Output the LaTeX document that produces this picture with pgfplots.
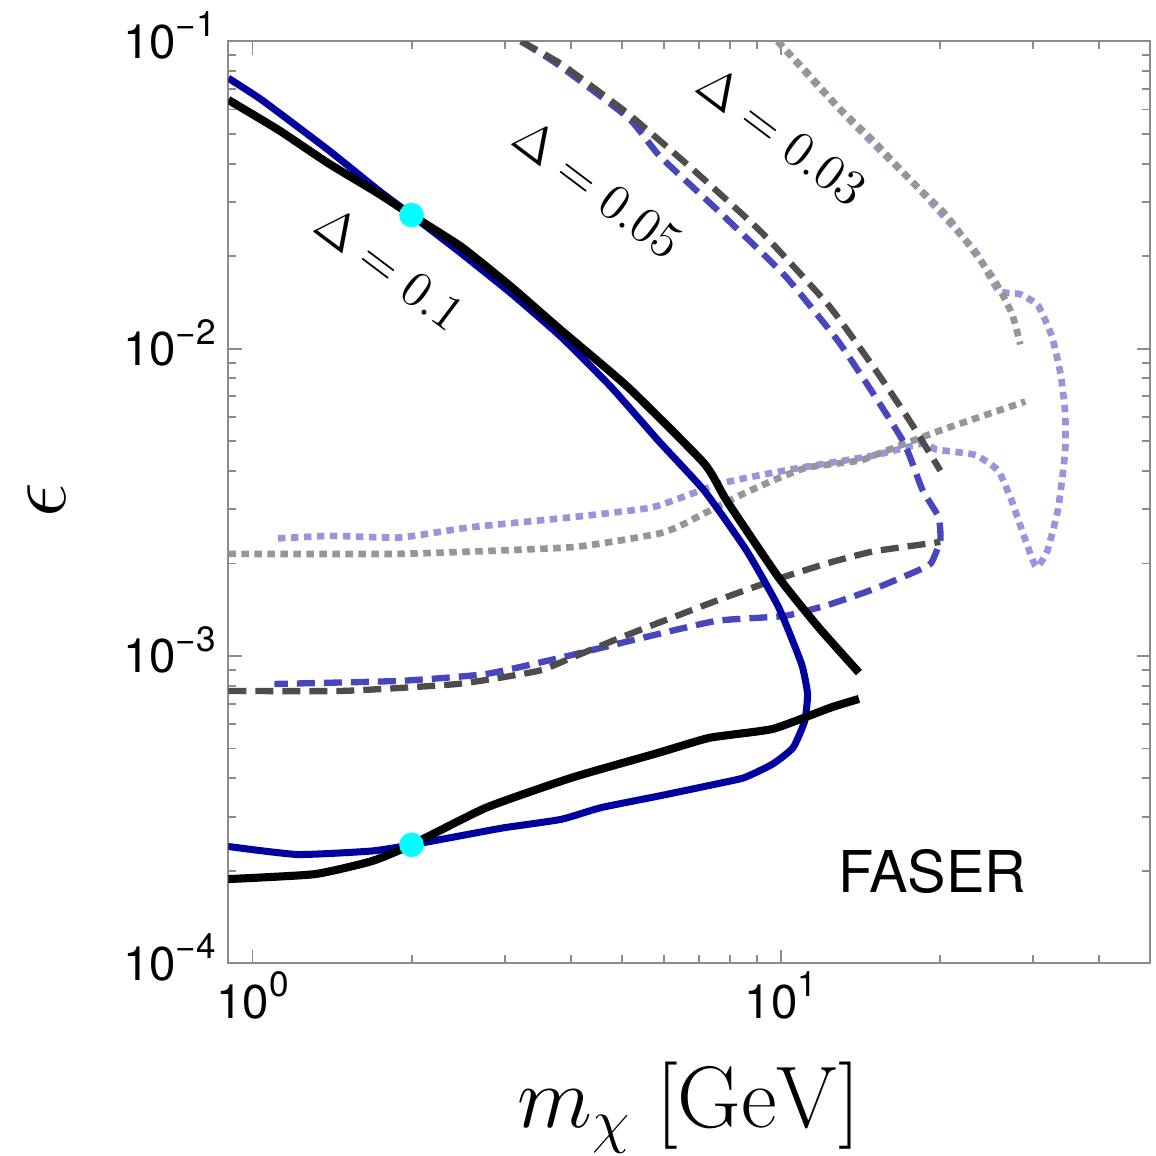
\documentclass[border=0pt]{standalone}
\usepackage[no-math]{fontspec}
\usepackage{pgfplots}
\pgfplotsset{compat=1.18}
\newfontfamily\helv{TeX Gyre Heros}
\definecolor{cblue}{RGB}{0,0,160}
\definecolor{cdgray}{RGB}{77,77,77}
\definecolor{cmblue}{RGB}{70,70,190}
\definecolor{clgray}{RGB}{150,150,150}
\definecolor{clblue}{RGB}{150,150,220}
\definecolor{cframe}{RGB}{140,140,140}
\definecolor{ccyan}{RGB}{0,255,255}
\newcommand{\tl}[1]{10\raisebox{0.45em}{\fontsize{10}{11}\selectfont #1}}
\begin{document}
\begin{tikzpicture}
\begin{axis}[
 name=ax,
 scale only axis, width=92.2mm, height=92.2mm,
 xmode=log, ymode=log,
 xmin=0.9, xmax=50, ymin=1e-4, ymax=0.1,
 xtick={1,10}, xticklabels={{\tl{0}},{\tl{1}}},
 ytick={1e-4,1e-3,1e-2,1e-1},
 yticklabels={{\tl{−4}},{\tl{−3}},{\tl{−2}},{\tl{−1}}},
 minor xtick={2,3,4,5,6,7,8,9,20,30,40},
 minor ytick={2e-4,3e-4,4e-4,5e-4,6e-4,7e-4,8e-4,9e-4,2e-3,3e-3,4e-3,5e-3,6e-3,7e-3,8e-3,9e-3,2e-2,3e-2,4e-2,5e-2,6e-2,7e-2,8e-2,9e-2},
 tick align=inside,
 major tick length=1.35mm, minor tick length=0.8mm,
 axis line style={cframe, line width=0.55pt},
 tick style={cframe, line width=0.55pt},
 ticklabel style={font=\helv\fontsize{13.5}{15}\selectfont, text=black},
 xticklabel style={anchor=base, yshift=-5.5mm},
 yticklabel style={anchor=base east, yshift=-1.68mm},
 xlabel={$m_\chi\ [\mathrm{GeV}]$},
 ylabel={$\epsilon$},
 xlabel style={at={(axis description cs:0.5,-0.1786)}, anchor=base, font=\fontsize{23}{27}\selectfont},
 ylabel style={at={(axis description cs:-0.1965,0.5023)}, anchor=center, font=\fontsize{24}{28}\selectfont},
 every axis plot/.append style={smooth, tension=0.3},
]
% light blue dotted (Delta = 0.03)
\addplot[clblue, line width=1.9pt, dash pattern=on 0.75mm off 0.55mm] coordinates {
(9.858,0.1) (11.63,0.0729) (13.60,0.0547) (15.27,0.0448) (17.81,0.0346)
(20.43,0.0267) (23.41,0.0206) (25.78,0.01549) (28.38,0.01503) (30.68,0.01379)
(32.56,0.01097) (33.85,0.00822) (34.51,0.00617) (34.51,0.00462) (33.47,0.00302)
(31.90,0.00219) (30.41,0.00195) (29.00,0.00239) (27.35,0.00319) (25.78,0.00401)
(23.41,0.0045) (21.25,0.00462) (19.65,0.0047) (18.52,0.00491) (14.97,0.00449)
(11.18,0.00413) (9.216,0.00389) (7.594,0.00362) (5.723,0.00305) (4.031,0.00283)
(2.570,0.00262) (1.904,0.00243) (1.410,0.00246) (1.100,0.00241)};
% light gray dotted (Delta = 0.03)
\addplot[clgray, line width=1.9pt, dash pattern=on 0.75mm off 0.55mm] coordinates {
(9.858,0.1) (11.18,0.0796) (12.80,0.0614) (14.97,0.0474) (17.81,0.0346)
(20.43,0.0275) (22.93,0.0212) (25.29,0.01684) (27.35,0.01303) (28.38,0.01033)};
\addplot[clgray, line width=1.9pt, dash pattern=on 0.75mm off 0.55mm] coordinates {
(0.9,0.00215) (1.904,0.00215) (4.022,0.00226) (5.861,0.0025) (6.494,0.00267)
(7.022,0.00286) (8.356,0.00333) (9.646,0.00372) (11.18,0.0041) (14.05,0.00432)
(14.97,0.00449) (20.03,0.00542) (29.00,0.00673)};
% blue dashed (Delta = 0.05)
\addplot[cmblue, line width=1.8pt, dash pattern=on 1.8mm off 0.9mm] coordinates {
(3.222,0.1) (3.770,0.0845) (5.147,0.0563) (5.899,0.0423) (7.594,0.0282)
(10.16,0.01733) (12.80,0.01064) (14.97,0.00712) (17.13,0.00491) (18.52,0.00348)
(19.86,0.00284) (20.03,0.00239) (19.26,0.00201) (18.20,0.0019) (14.97,0.00165)
(12.33,0.00147) (10.16,0.00135) (7.528,0.0013) (5.178,0.00112) (3.836,0.000988)
(2.768,0.000874) (1.904,0.00083) (1.100,0.000811)};
% dark gray dashed (Delta = 0.05)
\addplot[cdgray, line width=1.8pt, dash pattern=on 1.8mm off 0.9mm] coordinates {
(3.222,0.1) (3.846,0.0842) (5.147,0.058) (6.886,0.0377) (9.216,0.0238)
(12.33,0.01379) (14.97,0.00871) (17.51,0.00584) (20.03,0.00401)};
\addplot[cdgray, line width=1.8pt, dash pattern=on 1.8mm off 0.9mm] coordinates {
(0.9,0.00077) (1.485,0.00077) (2.446,0.000811) (3.470,0.000894) (4.022,0.000988)
(5.178,0.00118) (7.528,0.00151) (9.646,0.00176) (12.33,0.00201) (14.97,0.00219)
(20.03,0.00235)};
% dark blue solid (Delta = 0.1)
\addplot[cblue, line width=2.0pt] coordinates {
(0.9,0.0759) (1.041,0.0645) (1.392,0.0443) (1.730,0.0328) (2.0,0.0272)
(2.486,0.0204) (3.090,0.01511) (3.841,0.01091) (4.773,0.0075)
(5.861,0.00502) (7.161,0.00345) (8.614,0.0022) (9.901,0.00144) (10.94,0.000942)
(11.23,0.000752) (11.09,0.000614) (10.54,0.000503) (9.646,0.000445) (8.525,0.000402)
(7.528,0.000383) (5.861,0.00035) (4.563,0.000321) (3.836,0.000294) (2.987,0.000276)
(2.446,0.000259) (2.0,0.000243) (1.682,0.000232) (1.216,0.000226) (0.9,0.00024)};
% black solid (Delta = 0.1)
\addplot[black, line width=2.3pt] coordinates {
(0.9,0.0645) (1.120,0.0515) (1.392,0.0401) (1.730,0.032) (2.0,0.0272)
(2.486,0.02144) (3.090,0.01588) (3.841,0.01147) (5.134,0.0075)
(7.161,0.00423) (7.897,0.0032) (9.901,0.0018) (11.78,0.00124) (14.05,0.000883)};
\addplot[black, line width=2.3pt] coordinates {
(14.05,0.000725) (12.41,0.000679) (9.646,0.000579) (7.335,0.000542) (5.861,0.000484)
(4.022,0.000402) (2.768,0.000321) (2.0,0.000243) (1.682,0.000215) (1.310,0.000195)
(0.9,0.000188)};
% cyan points
\addplot[ccyan, only marks, mark=*, mark size=3.3pt, mark options={draw=ccyan, fill=ccyan}] coordinates {
(2.0,0.0272) (2.0,0.000243)};
% labels
\node[rotate=-37, font=\fontsize{13.6}{16}\selectfont] at (axis cs:1.823,0.01826) {$\Delta = 0.1$};
\node[rotate=-37, font=\fontsize{13.6}{16}\selectfont] at (axis cs:4.515,0.03324) {$\Delta = 0.05$};
\node[rotate=-37, font=\fontsize{13.6}{16}\selectfont] at (axis cs:10.05,0.04944) {$\Delta = 0.03$};
\node[font=\helv\fontsize{16.4}{18}\selectfont] at (rel axis cs:0.7635,0.0995) {FASER};
\end{axis}
\pgfresetboundingbox
\path[use as bounding box] (ax.south west) ++(-22.83mm,-19.27mm) rectangle ++(115.6mm,115.6mm);
\end{tikzpicture}
\end{document}
